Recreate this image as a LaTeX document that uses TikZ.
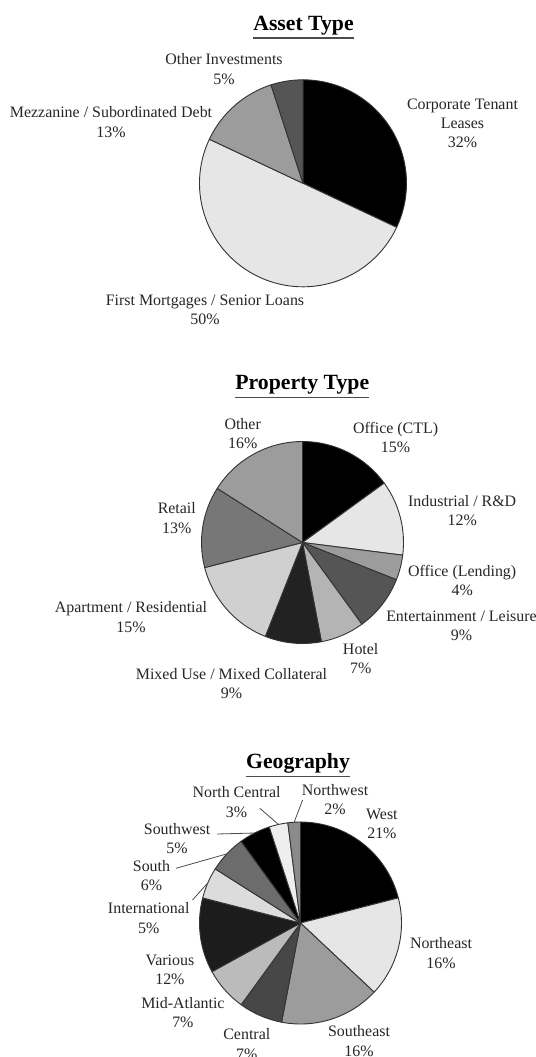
\documentclass[tikz,border=0pt]{standalone}
\usepackage{fontspec}
\setmainfont{Liberation Serif}
\definecolor{gA}{HTML}{E6E6E6}
\definecolor{gB}{HTML}{9C9C9C}
\definecolor{gC}{HTML}{555555}
\definecolor{gD}{HTML}{B4B4B4}
\definecolor{gE}{HTML}{222222}
\definecolor{gF}{HTML}{D0D0D0}
\definecolor{gG}{HTML}{777777}
\definecolor{gH}{HTML}{474747}
\definecolor{gI}{HTML}{BBBBBB}
\definecolor{gJ}{HTML}{1C1C1C}
\definecolor{gK}{HTML}{DCDCDC}
\definecolor{gL}{HTML}{6C6C6C}
\definecolor{gM}{HTML}{EEEEEE}
\definecolor{gN}{HTML}{8A8A8A}
\tikzset{
  slice/.style={draw=black!80, line width=0.9bp, line join=round},
  lab/.style={font=\fontsize{16}{19.4}\selectfont, align=center, inner sep=0pt, text=black!85},
  ttl/.style={font=\bfseries\fontsize{21.8}{24}\selectfont, inner sep=0pt, anchor=base},
  uline/.style={draw=black!70, line width=1.4bp},
  leader/.style={draw=black!70, line width=0.8bp},
}
\newcommand\pieslice[5]{\filldraw[slice, fill=#5] (#1) -- ([shift={(#2:#4)}]#1) arc[start angle=#2, end angle=#3, radius=#4] -- cycle;}
\begin{document}
\begin{tikzpicture}[x=1bp,y=1bp]
\fill[white] (0,0) rectangle (536,-1057);
\path[use as bounding box] (0,0) rectangle (536,-1057);

% ---------- Asset Type ----------
\node[ttl] (t1) at (303.5,-30) {Asset Type};
\draw[uline] ([yshift=-8bp]t1.base west) -- ([yshift=-8bp]t1.base east);
\coordinate (c1) at (303,-183.3);
\pieslice{c1}{90}{-25.2}{103.5bp}{black}
\pieslice{c1}{-25.2}{-205.2}{103.5bp}{gA}
\pieslice{c1}{154.8}{108}{103.5bp}{gB}
\pieslice{c1}{108}{90}{103.5bp}{gC}
\node[lab] (oi) at (224,-69.2) {Other Investments\\5\%};
\node[lab] (mz) at (111,-122) {Mezzanine / Subordinated Debt\\13\%};
\node[lab] (ctl) at (462.5,-123.3) {Corporate Tenant\\Leases\\32\%};
\node[lab] (fm) at (205,-309.7) {First Mortgages / Senior Loans\\50\%};

% ---------- Property Type ----------
\node[ttl] (t2) at (302.3,-389.5) {Property Type};
\draw[uline] ([yshift=-8bp]t2.base west) -- ([yshift=-8bp]t2.base east);
\coordinate (c2) at (302.5,-542.5);
\pieslice{c2}{90}{36}{101bp}{black}
\pieslice{c2}{36}{-7.2}{101bp}{gA}
\pieslice{c2}{-7.2}{-21.6}{101bp}{gB}
\pieslice{c2}{-21.6}{-54}{101bp}{gC}
\pieslice{c2}{-54}{-79.2}{101bp}{gD}
\pieslice{c2}{-79.2}{-111.6}{101bp}{gE}
\pieslice{c2}{-111.6}{-165.6}{101bp}{gF}
\pieslice{c2}{-165.6}{-212.4}{101bp}{gG}
\pieslice{c2}{147.6}{90}{101bp}{gB}
\node[lab] (oth) at (242.7,-433.8) {Other\\16\%};
\node[lab] (octl) at (395.6,-437.2) {Office (CTL)\\15\%};
\node[lab] (ind) at (462.2,-510.5) {Industrial / R\&D\\12\%};
\node[lab] (olend) at (462.2,-580.3) {Office (Lending)\\4\%};
\node[lab] (ent) at (461.5,-625.8) {Entertainment / Leisure\\9\%};
\node[lab] (hot) at (360.7,-658.8) {Hotel\\7\%};
\node[lab] (mix) at (231.5,-683.8) {Mixed Use / Mixed Collateral\\9\%};
\node[lab] (apt) at (131,-617.2) {Apartment / Residential\\15\%};
\node[lab] (ret) at (176.8,-518) {Retail\\13\%};

% ---------- Geography ----------
\node[ttl] (t3) at (298,-768.5) {Geography};
\draw[uline] ([yshift=-8bp]t3.base west) -- ([yshift=-8bp]t3.base east);
\coordinate (c3) at (300.5,-923);
\pieslice{c3}{90}{14.4}{101bp}{black}
\pieslice{c3}{14.4}{-43.2}{101bp}{gA}
\pieslice{c3}{-43.2}{-100.8}{101bp}{gB}
\pieslice{c3}{-100.8}{-126}{101bp}{gH}
\pieslice{c3}{-126}{-151.2}{101bp}{gI}
\pieslice{c3}{-151.2}{-194.4}{101bp}{gJ}
\pieslice{c3}{165.6}{147.6}{101bp}{gK}
\pieslice{c3}{147.6}{126}{101bp}{gL}
\pieslice{c3}{126}{108}{101bp}{black}
\pieslice{c3}{108}{97.2}{101bp}{gM}
\pieslice{c3}{97.2}{90}{101bp}{gN}
\node[lab] (nc) at (236.6,-802) {North Central\\3\%};
\node[lab] (nw) at (335,-799.5) {Northwest\\2\%};
\node[lab] (we) at (381.9,-823.7) {West\\21\%};
\node[lab] (sw) at (177.1,-838.8) {Southwest\\5\%};
\node[lab] (so) at (151.5,-875.5) {South\\6\%};
\node[lab] (intl) at (148.7,-918) {International\\5\%};
\node[lab] (var) at (169.9,-969.5) {Various\\12\%};
\node[lab] (mid) at (182.9,-1012.5) {Mid-Atlantic\\7\%};
\node[lab] (cen) at (246.8,-1044.2) {Central\\7\%};
\node[lab] (se) at (359,-1041) {Southeast\\16\%};
\node[lab] (ne) at (441,-953) {Northeast\\16\%};

% leader lines
\coordinate (ncA) at (259.8,-808.3);
\coordinate (ncB) at ([shift={(102.6:101bp)}]c3);
\coordinate (nwA) at (302.6,-800);
\coordinate (nwB) at ([shift={(93.6:101bp)}]c3);
\coordinate (swA) at (217.1,-834);
\coordinate (swB) at ([shift={(117:101bp)}]c3);
\coordinate (soA) at (176,-868.3);
\coordinate (soB) at ([shift={(136.8:101bp)}]c3);
\coordinate (inA) at (192.5,-900);
\coordinate (inB) at ([shift={(156.6:101bp)}]c3);
\draw[leader] (ncA) -- (ncB);
\draw[leader] (nwA) -- (nwB);
\draw[leader] (swA) -- (swB);
\draw[leader] (soA) -- (soB);
\draw[leader] (inA) -- (inB);
\end{tikzpicture}
\end{document}
